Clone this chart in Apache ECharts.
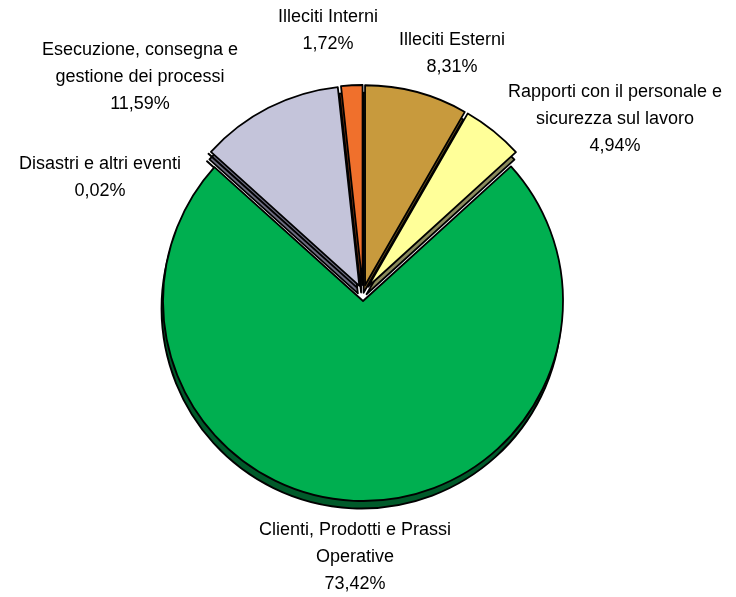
<!DOCTYPE html>
<html>
<head>
<meta charset="utf-8">
<script src="https://cdn.jsdelivr.net/npm/echarts@6/dist/echarts.min.js"></script>
<style>
  html, body { margin: 0; padding: 0; background: #ffffff; }
  #chart { width: 736px; height: 597px; }
</style>
</head>
<body>
<div id="chart"></div>
<script>
// ---- data ----
const categories = [
  'Illeciti Esterni',
  'Rapporti con il personale e\nsicurezza sul lavoro',
  'Clienti, Prodotti e Prassi\nOperative',
  'Disastri e altri eventi',
  'Esecuzione, consegna e\ngestione dei processi',
  'Illeciti Interni'
];
const values = [8.31, 4.94, 73.42, 0.02, 11.59, 1.72];

// ---- styles ----
const faceColors = ['#C89A3D', '#FFFF99', '#00AF50', '#993366', '#C4C4DA', '#F0702C'];
const sideColors = ['#6E5420', '#8A8A5C', '#005A2A', '#4A1A33', '#6C6C80', '#8A3C14'];
// label anchor points (layout only)
const labelAnchors = [
  [452, 54], [615, 119], [355, 557], [100, 178], [140, 77], [328, 31]
];

const fmt = v => v.toFixed(2).replace('.', ',') + '%';

const chart = echarts.init(document.getElementById('chart'), null, { renderer: 'canvas' });

function buildData(colors, selected) {
  return categories.map((name, i) => ({
    name: name,
    value: values[i],
    selected: selected,
    itemStyle: { color: colors ? colors[i] : 'rgba(0,0,0,0)' },
    select: { itemStyle: { color: colors ? colors[i] : 'rgba(0,0,0,0)' } }
  }));
}

const common = {
  type: 'pie',
  radius: 200,
  startAngle: 90,
  clockwise: true,
  selectedMode: 'multiple',
  selectedOffset: 8,
  minAngle: 0,
  avoidLabelOverlap: false,
  animation: false,
  silent: true,
  itemStyle: { borderColor: '#000', borderWidth: 1.8 },
  emphasis: { disabled: true }
};

chart.setOption({
  backgroundColor: '#ffffff',
  series: [
    Object.assign({}, common, {
      name: 'side',
      center: [361.5, 300.5],
      z: 1,
      label: { show: false },
      labelLine: { show: false },
      data: buildData(sideColors, true)
    }),
    Object.assign({}, common, {
      name: 'face',
      center: [363, 293],
      z: 2,
      label: { show: false },
      labelLine: { show: false },
      data: buildData(faceColors, true)
    }),
    Object.assign({}, common, {
      name: 'labels',
      center: [363, 293],
      z: 3,
      selectedMode: false,
      itemStyle: { color: 'rgba(0,0,0,0)', borderWidth: 0 },
      label: {
        show: true,
        position: 'outside',
        color: '#000',
        fontFamily: 'Liberation Sans, Arial, sans-serif',
        fontSize: 18,
        lineHeight: 27,
        align: 'center',
        formatter: p => p.name + '\n' + fmt(p.value)
      },
      labelLine: { show: false },
      labelLayout: function (params) {
        const a = labelAnchors[params.dataIndex];
        return { x: a[0], y: a[1], align: 'center', verticalAlign: 'middle' };
      },
      data: buildData(null, false)
    })
  ]
});
</script>
</body>
</html>
